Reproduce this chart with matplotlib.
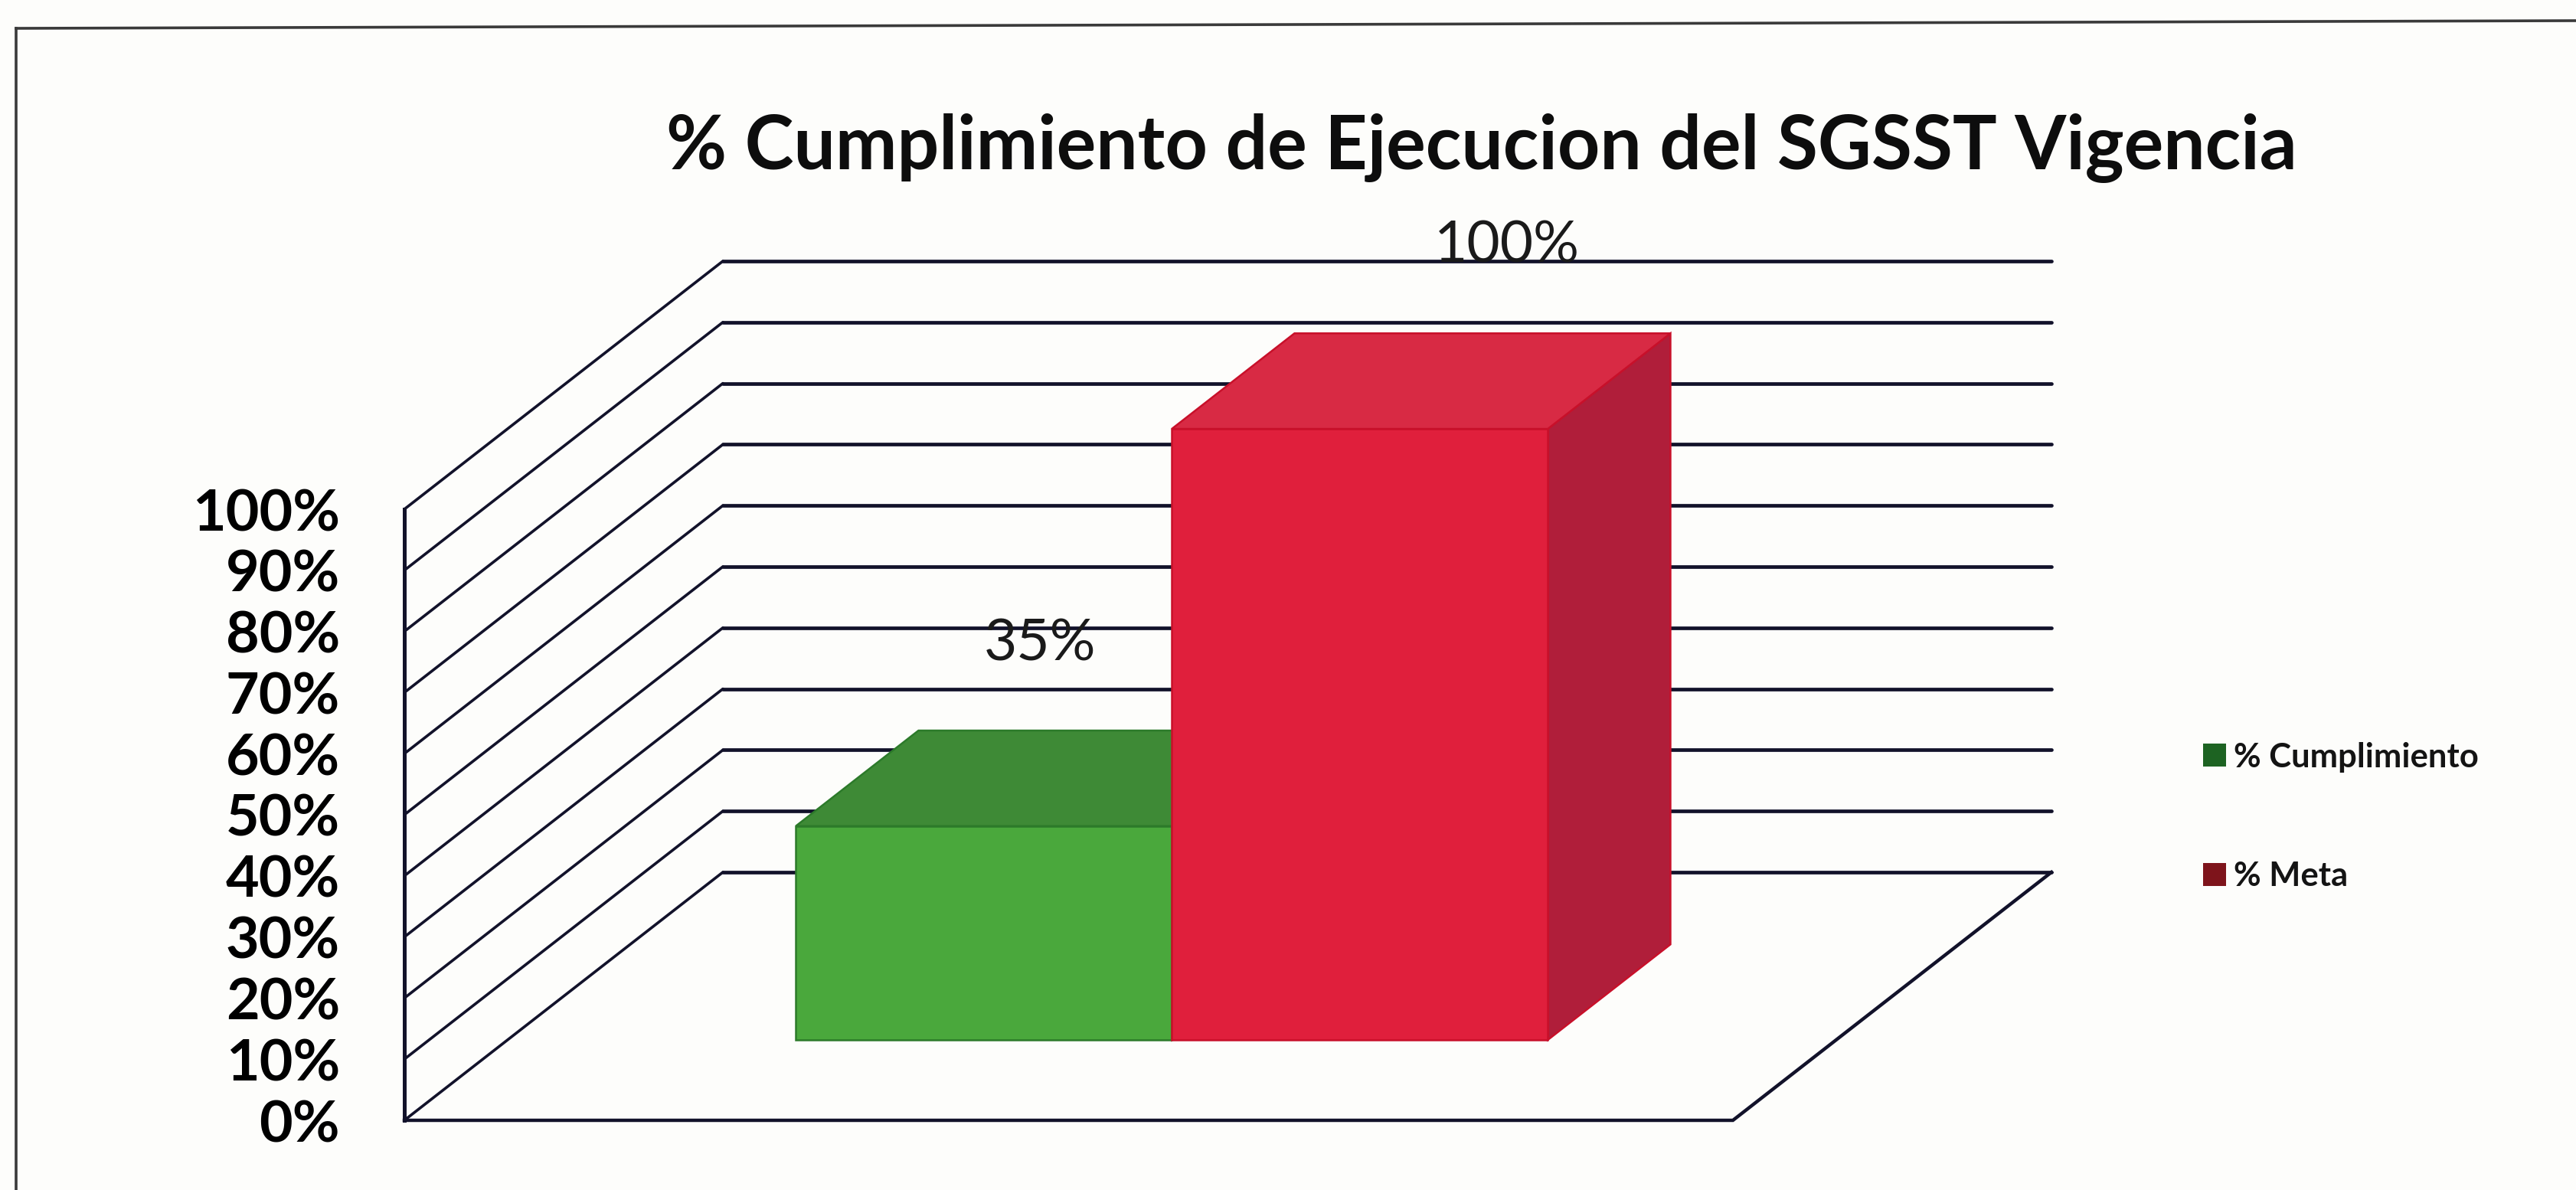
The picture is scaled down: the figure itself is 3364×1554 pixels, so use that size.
import matplotlib
matplotlib.use("Agg")
import matplotlib.pyplot as plt
from matplotlib.patches import Polygon, Rectangle
from matplotlib.lines import Line2D

# ---------------- data ----------------
title = "% Cumplimiento de Ejecucion del SGSST Vigencia"
series = ["% Cumplimiento", "% Meta"]
values = [0.35, 1.00]
value_labels = ["35%", "100%"]
y_ticks = [0.0, 0.1, 0.2, 0.3, 0.4, 0.5, 0.6, 0.7, 0.8, 0.9, 1.0]
y_tick_labels = ["0%", "10%", "20%", "30%", "40%", "50%", "60%", "70%", "80%", "90%", "100%"]

# ---------------- style ----------------
W, H, DPI = 3364, 1554, 100
FONT = "Lato"
face_cols = ["#4aa83c", "#e01f3c"]
top_cols = ["#3e8a36", "#d82a44"]
side_cols = ["#3a7f33", "#b01e3a"]
edge_cols = ["#2c7a2a", "#c8102a"]
legend_cols = ["#1d6322", "#7e141b"]
grid_col = "#12122a"
bar_width = 0.283
bar_pos = [-0.1415, 0.1415]
d0, bar_depth = 0.324, 0.385
label_off_px = [(-7, 175), (112, 177)]

fig = plt.figure(figsize=(W / DPI, H / DPI), dpi=DPI)
fig.patch.set_facecolor("#fdfdfb")
renderer = fig.canvas.get_renderer()


def fit_size(txt, weight, target_px):
    t = fig.text(0, 0, txt, fontsize=100, fontweight=weight, family=FONT)
    w = t.get_window_extent(renderer).width
    t.remove()
    return 100.0 * target_px / w


# front plane axes (category x, value y); depth via oblique offset
ax = fig.add_axes([528 / W, 91 / H, 1735 / W, 798 / H])
ax.set_xlim(-0.5, 0.5)
ax.set_ylim(0, 1)
ax.patch.set_alpha(0)
for s in ax.spines.values():
    s.set_visible(False)
ax.set_xticks([])
ax.set_yticks(y_ticks)
tick_fs = fit_size("100%", "bold", 193)
ax.set_yticklabels(y_tick_labels, fontsize=tick_fs, fontweight="bold", family=FONT)
ax.tick_params(axis="y", length=0, pad=84 * 72 / DPI)

DX = 416 / 1735
DY = 324 / 798


def P(x, y, d):
    return (x + d * DX, y + d * DY)


# walls: side diagonals and back gridlines
for v in y_ticks:
    a, b = P(-0.5, v, 0), P(-0.5, v, 1)
    ax.plot([a[0], b[0]], [a[1], b[1]], color=grid_col, lw=2.6, clip_on=False,
            solid_capstyle="round", zorder=1)
    c = P(0.5, v, 1)
    ax.plot([b[0], c[0]], [b[1], c[1]], color=grid_col, lw=3.4, clip_on=False,
            solid_capstyle="round", zorder=1)

# front-left vertical edge
a, b = P(-0.5, 0, 0), P(-0.5, 1, 0)
ax.plot([a[0], b[0]], [a[1], b[1]], color=grid_col, lw=3.6, clip_on=False, zorder=1)
# floor front and right edges
pts = [P(-0.5, 0, 0), P(0.5, 0, 0), P(0.5, 0, 1)]
ax.plot([p[0] for p in pts], [p[1] for p in pts], color=grid_col, lw=3.2,
        clip_on=False, zorder=1, solid_joinstyle="miter")

# bars
d1 = d0 + bar_depth
for i, v in enumerate(values):
    x0, x1 = bar_pos[i] - bar_width / 2, bar_pos[i] + bar_width / 2
    z = 3 + i
    front = [P(x0, 0, d0), P(x1, 0, d0), P(x1, v, d0), P(x0, v, d0)]
    top = [P(x0, v, d0), P(x1, v, d0), P(x1, v, d1), P(x0, v, d1)]
    side = [P(x1, 0, d0), P(x1, 0, d1), P(x1, v, d1), P(x1, v, d0)]
    for poly, col in ((side, side_cols[i]), (top, top_cols[i]), (front, face_cols[i])):
        ax.add_patch(Polygon(poly, closed=True, facecolor=col, edgecolor=edge_cols[i],
                             lw=1.8, clip_on=False, zorder=z, joinstyle="miter"))

# data labels
lab_fs = fit_size("100%", "normal", 190)
for i, v in enumerate(values):
    xy = P(bar_pos[i], v, d0 + bar_depth / 2)
    ox, oy = label_off_px[i]
    ax.annotate(value_labels[i], xy=xy, xytext=(ox * 72 / DPI, oy * 72 / DPI),
                textcoords="offset points", ha="center", va="center",
                fontsize=lab_fs, family=FONT, color="#1a1a1a", zorder=10,
                annotation_clip=False)

# title
title_fs = fit_size(title, "bold", 2130)
fig.text(1935 / W, 1 - 221 / H, title, ha="center", va="baseline",
         fontsize=title_fs, fontweight="bold", family=FONT, color="#0d0d0d")

# legend
leg_fs = fit_size(series[0], "bold", 320)
sq = 30
for i, name in enumerate(series):
    top_y = [971, 1127][i]
    base_y = [1002, 1157][i]
    fig.add_artist(Rectangle((2877 / W, 1 - (top_y + sq) / H), sq / W, sq / H,
                             transform=fig.transFigure, facecolor=legend_cols[i],
                             edgecolor="none"))
    fig.text(2917 / W, 1 - base_y / H, name, ha="left", va="baseline",
             fontsize=leg_fs, fontweight="bold", family=FONT, color="#141414")

# outer frame (scan border)
fig.add_artist(Line2D([21 / W, 1.0], [1 - 37 / H, 1 - 27 / H], transform=fig.transFigure,
                      color="#3a3a3a", lw=2.6))
fig.add_artist(Line2D([21 / W, 21 / W], [1 - 37 / H, 0.0], transform=fig.transFigure,
                      color="#3a3a3a", lw=2.6))

fig.savefig("out.png", dpi=DPI, facecolor=fig.get_facecolor())
